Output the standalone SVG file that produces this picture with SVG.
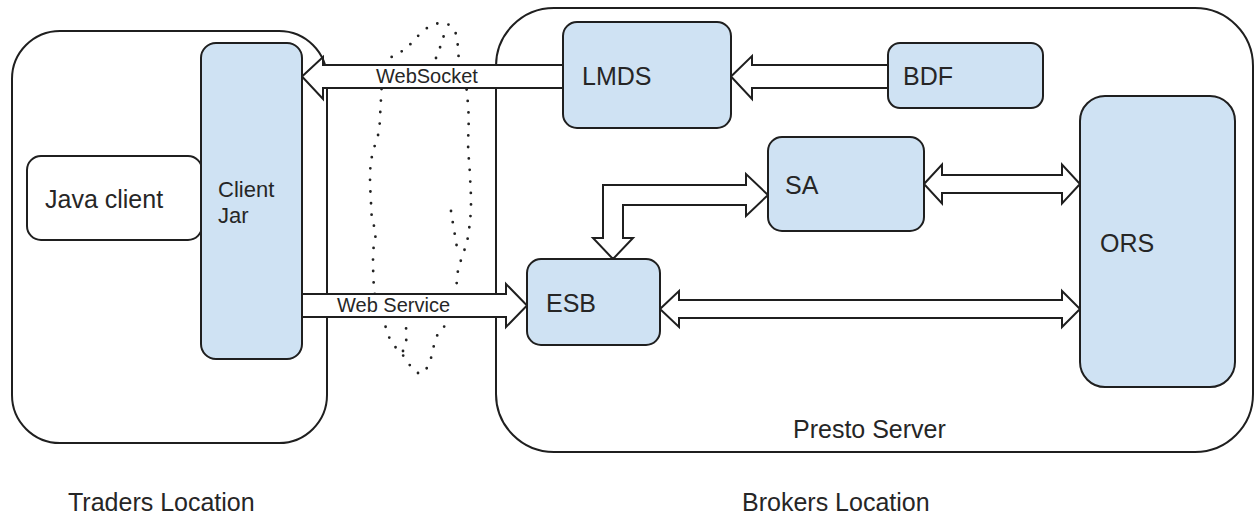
<svg xmlns="http://www.w3.org/2000/svg" width="1256" height="517" viewBox="0 0 1256 517">
<style>
.cont{fill:#fff;stroke:#1f1f1f;stroke-width:2}
.node{fill:#cfe2f3;stroke:#1f1f1f;stroke-width:2}
.wnode{fill:#fff;stroke:#1f1f1f;stroke-width:2}
.arr{fill:#fff;stroke:#1f1f1f;stroke-width:2;stroke-linejoin:miter}
.cloud{fill:none;stroke:#222;stroke-width:2.8;stroke-linecap:round;stroke-dasharray:0 11.5}
text{font-family:"Liberation Sans",Arial,sans-serif;fill:#262626}
.lbl{font-size:25px}
.sm{font-size:22px}
.al{font-size:20px}
</style>
<g id="traders-location">
<rect class="cont" x="12" y="31" width="315" height="412" rx="48" ry="48"/>
</g>
<g id="presto-server">
<rect class="cont" x="496" y="8" width="757" height="444" rx="58" ry="58"/>
<text class="lbl" x="793" y="438">Presto Server</text>
</g>
<g id="cloud">
<path class="cloud" d="M418,373 C410,368 404,356 400,351 C392,346 386,334 384,318 C378,305 374,295 374,288 C373,275 373,262 373,253 C374,242 376,236 376,231 C372,222 371,215 371,200 C370,188 370,180 370,172 C371,160 372,154 375,145 C379,135 380,125 380,115 C381,105 381,98 381,92 C384,75 386,65 389,59 C395,54 400,52 405,50 C410,45 412,42 418,36 C425,28 433,24 440,23 C448,22 453,27 456,34 C458,42 458,50 459,62 C463,75 467,85 467,95 C469,110 469,125 468,140 C468,155 470,168 470,178 C471,190 471,200 471,210 C470,222 469,232 467,242 C463,255 460,262 458,270 C457,280 456,290 455,300 C452,310 450,316 447,324 C440,330 436,335 434,345 C432,355 430,365 424,372 C421,374 419,374 418,373"/>
<path class="cloud" d="M451,211 C453,225 456,240 458,255"/>
<path class="cloud" d="M436,58 C440,50 441,42 445,33"/>
<path class="cloud" d="M403,351 C407,344 407,333 406,328"/>
</g>
<g id="connectors">
<polygon class="arr" points="302,76.5 323,57 323,65 565,65 565,88 323,88 323,99"/>
<polygon class="arr" points="731,76.5 752,56 752,65 890,65 890,88 752,88 752,99"/>
<polygon class="arr" points="300,294 506,294 506,284 527,305.5 506,327 506,317 300,317"/>
<polygon class="arr" points="660,309 679,291 679,300 1062,300 1062,291 1080,309 1062,327 1062,318 679,318 679,327"/>
<polygon class="arr" points="924,184 942,164.5 942,175 1062,175 1062,164.5 1080,184 1062,203.5 1062,193 942,193 942,203.5"/>
<polygon class="arr" points="613,259 633,238 623,238 623,205 746,205 746,216 768,195 746,174 746,185 603,185 603,238 593,238"/>
<text class="al" x="376" y="83">WebSocket</text>
<text class="al" x="337" y="312">Web Service</text>
</g>
<g id="java-client">
<rect class="wnode" x="27" y="156" width="175" height="84" rx="14" ry="14"/>
<text class="lbl" x="45" y="208">Java client</text>
</g>
<g id="client-jar">
<rect class="node" x="201" y="43" width="101" height="316" rx="15" ry="15"/>
<text class="sm" x="218" y="197">Client</text>
<text class="sm" x="218" y="223">Jar</text>
</g>
<g id="lmds">
<rect class="node" x="563" y="22" width="168" height="106" rx="14" ry="14"/>
<text class="lbl" x="582" y="85">LMDS</text>
</g>
<g id="bdf">
<rect class="node" x="888" y="43" width="155" height="65" rx="12" ry="12"/>
<text class="lbl" x="903" y="85">BDF</text>
</g>
<g id="sa">
<rect class="node" x="768" y="137" width="156" height="94" rx="14" ry="14"/>
<text class="lbl" x="785" y="194">SA</text>
</g>
<g id="esb">
<rect class="node" x="527" y="259" width="133" height="86" rx="14" ry="14"/>
<text class="lbl" x="546" y="312">ESB</text>
</g>
<g id="ors">
<rect class="node" x="1080" y="96" width="155" height="291" rx="25" ry="25"/>
<text class="lbl" x="1100" y="252">ORS</text>
</g>
<g id="labels">
<text class="lbl" x="68" y="511">Traders Location</text>
<text class="lbl" x="742" y="511">Brokers Location</text>
</g>
</svg>
